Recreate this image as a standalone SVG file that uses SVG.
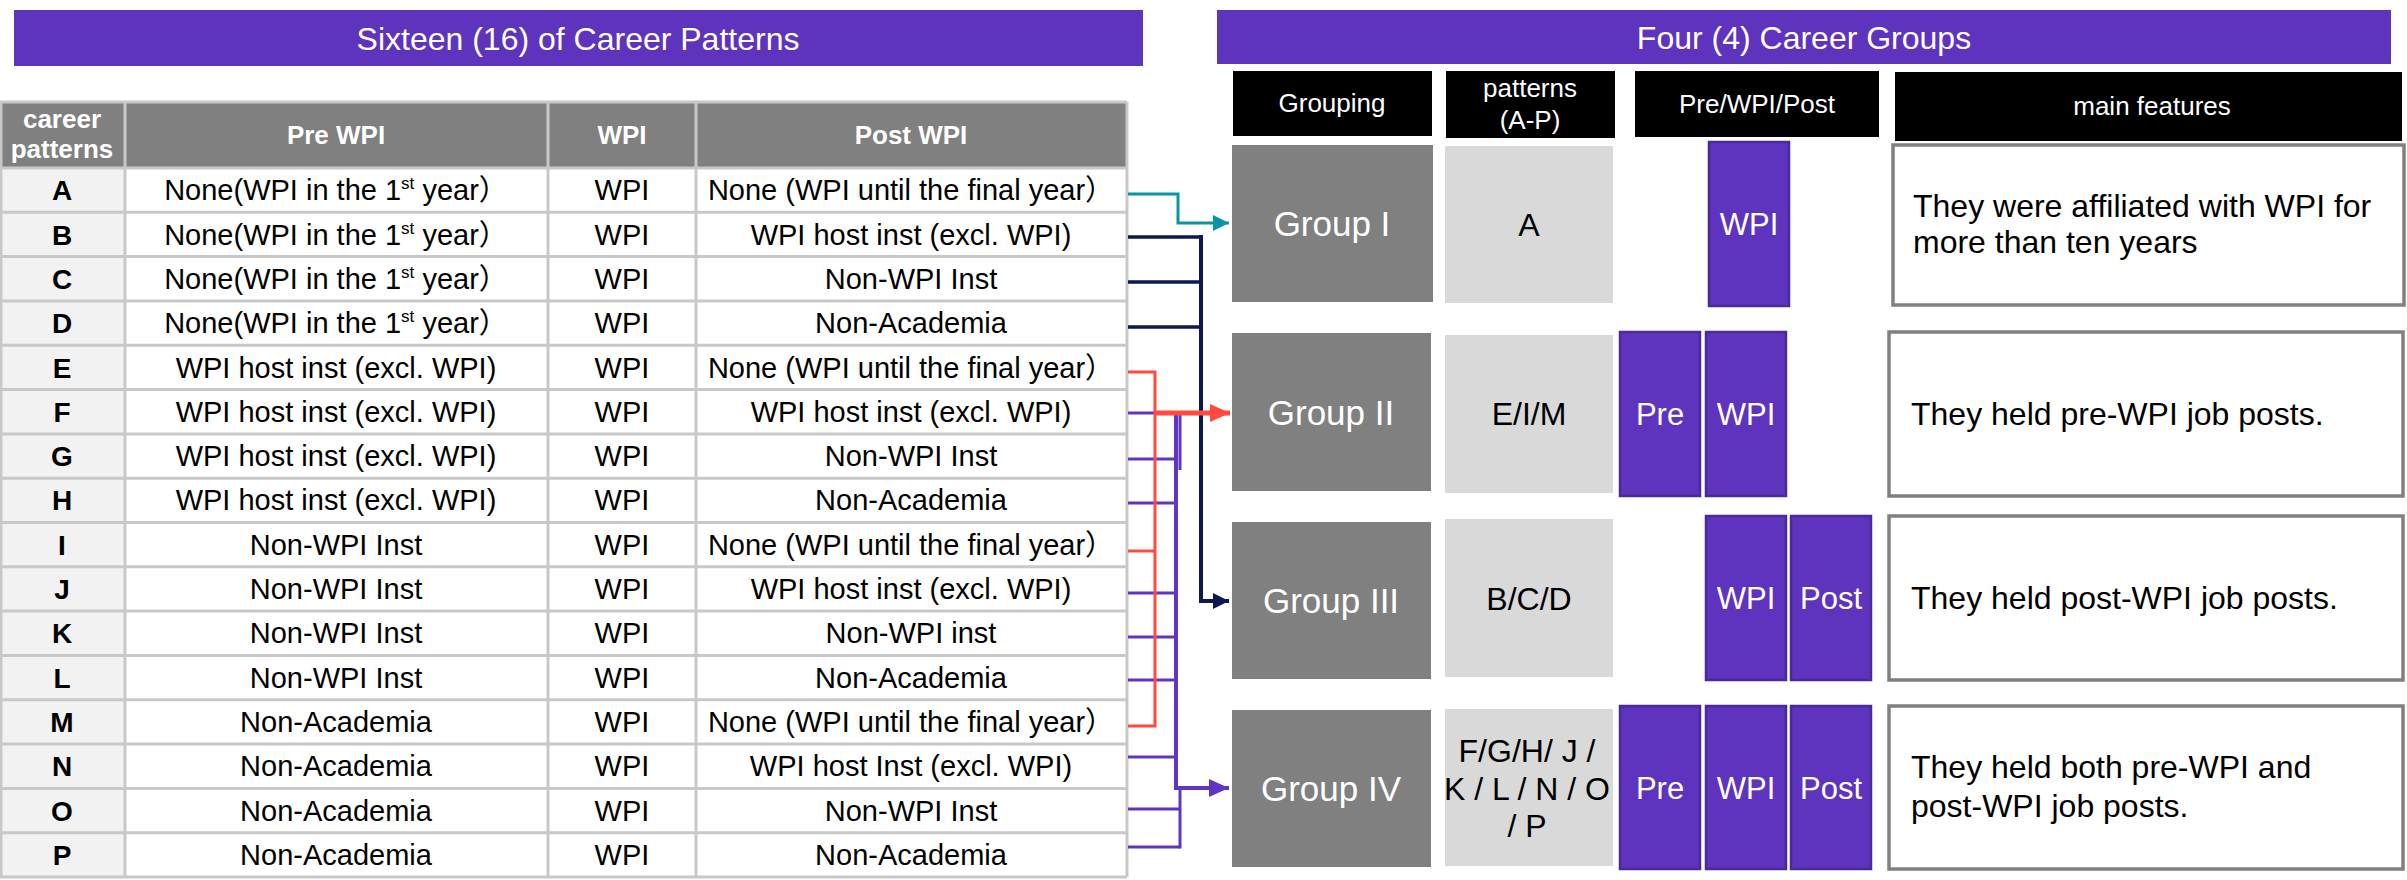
<svg xmlns="http://www.w3.org/2000/svg" width="2407" height="880" viewBox="0 0 2407 880">
<defs>
<style>
text{font-family:'Liberation Sans',Arial,'Noto Sans CJK JP',sans-serif}
.title{font-size:32px;fill:#fff;text-anchor:middle}
.th{font-weight:bold;font-size:26px;fill:#fff;text-anchor:middle}
.td{font-size:29px;fill:#000;text-anchor:middle}
.tl{font-weight:bold;font-size:28px;fill:#000;text-anchor:middle}
.hdr{font-size:26px;fill:#fff;text-anchor:middle}
.grp{font-size:35px;fill:#fff;text-anchor:middle}
.pat{font-size:32px;fill:#000;text-anchor:middle}
.bar{font-size:31px;fill:#fff;text-anchor:middle}
.feat{font-size:32px;fill:#000}
.sup{font-size:17px}
.grid{stroke:#c8c8c8;stroke-width:3;fill:none}
.gbox{fill:#808080}
.pbox{fill:#d9d9d9}
.vbox{fill:#5e33be;stroke:#4a2a9a;stroke-width:2.5}
.fbox{fill:#fff;stroke:#808080;stroke-width:3.5}
.conn{fill:none;stroke-linejoin:miter}
</style>
<marker id="arTeal" markerUnits="userSpaceOnUse" markerWidth="18" markerHeight="18" refX="16" refY="9" orient="auto"><path d="M0,1 L16,9 L0,17 Z" fill="#0a95a6"/></marker>
<marker id="arNavy" markerUnits="userSpaceOnUse" markerWidth="18" markerHeight="18" refX="16" refY="9" orient="auto"><path d="M0,1 L16,9 L0,17 Z" fill="#0c1850"/></marker>
<marker id="arRed" markerUnits="userSpaceOnUse" markerWidth="22" markerHeight="20" refX="20" refY="10" orient="auto"><path d="M0,1 L20,10 L0,19 Z" fill="#ff4a3d"/></marker>
<marker id="arPurple" markerUnits="userSpaceOnUse" markerWidth="22" markerHeight="20" refX="20" refY="10" orient="auto"><path d="M0,1 L20,10 L0,19 Z" fill="#6035c4"/></marker>
</defs>
<rect width="2407" height="880" fill="#fff"/>

<g id="title-left">
<rect x="14" y="10" width="1129" height="56" fill="#5e33be"/>
<text class="title" x="578" y="50">Sixteen (16) of Career Patterns</text>
</g>
<g id="title-right">
<rect x="1217" y="10" width="1174" height="54" fill="#5e33be"/>
<text class="title" x="1804" y="49">Four (4) Career Groups</text>
</g>

<g id="table">
<rect x="0" y="102" width="1127" height="66" fill="#808080"/>
<rect x="0" y="168" width="125" height="709" fill="#f2f2f2"/>
<rect x="125" y="168" width="1002" height="709" fill="#fff"/>
<path class="grid" d="M0,102H1127M0,168H1127M0,212.3H1127M0,256.6H1127M0,300.9H1127M0,345.3H1127M0,389.6H1127M0,433.9H1127M0,478.2H1127M0,522.5H1127M0,566.8H1127M0,611.1H1127M0,655.4H1127M0,699.8H1127M0,744.1H1127M0,788.4H1127M0,832.7H1127M0,877H1127M1,102V877M125,102V877M548,102V877M696,102V877M1127,102V877"/>
<text class="th" x="62" y="128">career</text>
<text class="th" x="62" y="158">patterns</text>
<text class="th" x="336" y="144">Pre WPI</text>
<text class="th" x="622" y="144">WPI</text>
<text class="th" x="911" y="144">Post WPI</text>

<g id="row-A"><text class="tl" x="62" y="200">A</text><text class="td" x="336" y="200">None(WPI in the 1<tspan class="sup" dy="-11">st</tspan><tspan dy="11"> year）</tspan></text><text class="td" x="622" y="200">WPI</text><text class="td" x="911" y="200">None (WPI until the final year）</text></g>
<g id="row-B"><text class="tl" x="62" y="244.5">B</text><text class="td" x="336" y="244.5">None(WPI in the 1<tspan class="sup" dy="-11">st</tspan><tspan dy="11"> year）</tspan></text><text class="td" x="622" y="244.5">WPI</text><text class="td" x="911" y="244.5">WPI host inst (excl. WPI)</text></g>
<g id="row-C"><text class="tl" x="62" y="289">C</text><text class="td" x="336" y="289">None(WPI in the 1<tspan class="sup" dy="-11">st</tspan><tspan dy="11"> year）</tspan></text><text class="td" x="622" y="289">WPI</text><text class="td" x="911" y="289">Non-WPI Inst</text></g>
<g id="row-D"><text class="tl" x="62" y="333">D</text><text class="td" x="336" y="333">None(WPI in the 1<tspan class="sup" dy="-11">st</tspan><tspan dy="11"> year）</tspan></text><text class="td" x="622" y="333">WPI</text><text class="td" x="911" y="333">Non-Academia</text></g>
<g id="row-E"><text class="tl" x="62" y="377.5">E</text><text class="td" x="336" y="377.5">WPI host inst (excl. WPI)</text><text class="td" x="622" y="377.5">WPI</text><text class="td" x="911" y="377.5">None (WPI until the final year）</text></g>
<g id="row-F"><text class="tl" x="62" y="421.7">F</text><text class="td" x="336" y="421.7">WPI host inst (excl. WPI)</text><text class="td" x="622" y="421.7">WPI</text><text class="td" x="911" y="421.7">WPI host inst (excl. WPI)</text></g>
<g id="row-G"><text class="tl" x="62" y="466">G</text><text class="td" x="336" y="466">WPI host inst (excl. WPI)</text><text class="td" x="622" y="466">WPI</text><text class="td" x="911" y="466">Non-WPI Inst</text></g>
<g id="row-H"><text class="tl" x="62" y="510.3">H</text><text class="td" x="336" y="510.3">WPI host inst (excl. WPI)</text><text class="td" x="622" y="510.3">WPI</text><text class="td" x="911" y="510.3">Non-Academia</text></g>
<g id="row-I"><text class="tl" x="62" y="554.7">I</text><text class="td" x="336" y="554.7">Non-WPI Inst</text><text class="td" x="622" y="554.7">WPI</text><text class="td" x="911" y="554.7">None (WPI until the final year）</text></g>
<g id="row-J"><text class="tl" x="62" y="599">J</text><text class="td" x="336" y="599">Non-WPI Inst</text><text class="td" x="622" y="599">WPI</text><text class="td" x="911" y="599">WPI host inst (excl. WPI)</text></g>
<g id="row-K"><text class="tl" x="62" y="643.3">K</text><text class="td" x="336" y="643.3">Non-WPI Inst</text><text class="td" x="622" y="643.3">WPI</text><text class="td" x="911" y="643.3">Non-WPI inst</text></g>
<g id="row-L"><text class="tl" x="62" y="687.6">L</text><text class="td" x="336" y="687.6">Non-WPI Inst</text><text class="td" x="622" y="687.6">WPI</text><text class="td" x="911" y="687.6">Non-Academia</text></g>
<g id="row-M"><text class="tl" x="62" y="732">M</text><text class="td" x="336" y="732">Non-Academia</text><text class="td" x="622" y="732">WPI</text><text class="td" x="911" y="732">None (WPI until the final year）</text></g>
<g id="row-N"><text class="tl" x="62" y="776.2">N</text><text class="td" x="336" y="776.2">Non-Academia</text><text class="td" x="622" y="776.2">WPI</text><text class="td" x="911" y="776.2">WPI host Inst (excl. WPI)</text></g>
<g id="row-O"><text class="tl" x="62" y="820.5">O</text><text class="td" x="336" y="820.5">Non-Academia</text><text class="td" x="622" y="820.5">WPI</text><text class="td" x="911" y="820.5">Non-WPI Inst</text></g>
<g id="row-P"><text class="tl" x="62" y="865">P</text><text class="td" x="336" y="865">Non-Academia</text><text class="td" x="622" y="865">WPI</text><text class="td" x="911" y="865">Non-Academia</text></g>
</g>

<g id="headers">
<rect x="1233" y="71" width="199" height="65" fill="#000"/>
<text class="hdr" x="1332" y="112">Grouping</text>
<rect x="1446" y="71" width="169" height="67" fill="#000"/>
<text class="hdr" x="1530" y="97">patterns</text>
<text class="hdr" x="1530" y="129">(A-P)</text>
<rect x="1635" y="71" width="244" height="66" fill="#000"/>
<text class="hdr" x="1757" y="113">Pre/WPI/Post</text>
<rect x="1895" y="72" width="507" height="69" fill="#000"/>
<text class="hdr" x="2152" y="115">main features</text>
</g>

<g id="group-1">
<rect class="gbox" x="1232" y="145" width="201" height="157"/>
<text class="grp" x="1332" y="236">Group I</text>
<rect class="pbox" x="1445" y="146" width="168" height="157"/>
<text class="pat" x="1529" y="236">A</text>
<rect class="vbox" x="1709" y="142" width="80" height="164"/>
<text class="bar" x="1749" y="235">WPI</text>
<rect class="fbox" x="1893" y="145" width="511" height="160"/>
<text class="feat" x="1913" y="217">They were affiliated with WPI for</text>
<text class="feat" x="1913" y="253">more than ten years</text>
</g>

<g id="group-2">
<rect class="gbox" x="1232" y="333" width="199" height="158"/>
<text class="grp" x="1331" y="425">Group II</text>
<rect class="pbox" x="1445" y="335" width="168" height="158"/>
<text class="pat" x="1529" y="425">E/I/M</text>
<rect class="vbox" x="1620" y="332" width="80" height="164"/>
<text class="bar" x="1660" y="425">Pre</text>
<rect class="vbox" x="1706" y="332" width="80" height="164"/>
<text class="bar" x="1746" y="425">WPI</text>
<rect class="fbox" x="1889" y="332" width="514" height="164"/>
<text class="feat" x="1911" y="425">They held pre-WPI job posts.</text>
</g>

<g id="group-3">
<rect class="gbox" x="1232" y="522" width="199" height="157"/>
<text class="grp" x="1331" y="613">Group III</text>
<rect class="pbox" x="1445" y="519" width="168" height="158"/>
<text class="pat" x="1529" y="610">B/C/D</text>
<rect class="vbox" x="1706" y="516" width="80" height="164"/>
<text class="bar" x="1746" y="609">WPI</text>
<rect class="vbox" x="1791" y="516" width="80" height="164"/>
<text class="bar" x="1831" y="609">Post</text>
<rect class="fbox" x="1889" y="516" width="514" height="164"/>
<text class="feat" x="1911" y="609">They held post-WPI job posts.</text>
</g>

<g id="group-4">
<rect class="gbox" x="1232" y="710" width="199" height="157"/>
<text class="grp" x="1331" y="801">Group IV</text>
<rect class="pbox" x="1445" y="709" width="168" height="157"/>
<text class="pat" x="1527" y="762">F/G/H/ J /</text>
<text class="pat" x="1527" y="800">K / L / N / O</text>
<text class="pat" x="1527" y="837">/ P</text>
<rect class="vbox" x="1620" y="706" width="80" height="163"/>
<text class="bar" x="1660" y="799">Pre</text>
<rect class="vbox" x="1706" y="706" width="80" height="163"/>
<text class="bar" x="1746" y="799">WPI</text>
<rect class="vbox" x="1791" y="706" width="80" height="163"/>
<text class="bar" x="1831" y="799">Post</text>
<rect class="fbox" x="1889" y="706" width="514" height="163"/>
<text class="feat" x="1911" y="778">They held both pre-WPI and</text>
<text class="feat" x="1911" y="817">post-WPI job posts.</text>
</g>

<g id="connectors">
<path class="conn" stroke="#0a95a6" stroke-width="3" d="M1128,194H1178V223H1229" marker-end="url(#arTeal)"/>
<path class="conn" stroke="#0c1850" stroke-width="3.5" d="M1128,237H1201M1128,282H1201M1128,327H1201"/>
<path class="conn" stroke="#0c1850" stroke-width="4" d="M1201,235V601H1229" marker-end="url(#arNavy)"/>
<path class="conn" stroke="#6035c4" stroke-width="3" d="M1128,413H1180M1128,459H1177M1128,503H1177M1128,593H1177M1128,637H1177M1128,680H1177M1128,757H1177M1128,809H1180M1128,847H1180"/>
<path class="conn" stroke="#6035c4" stroke-width="3" d="M1180,412V470M1180,788V848.5"/>
<path class="conn" stroke="#6035c4" stroke-width="4" d="M1176,411V790"/>
<path class="conn" stroke="#6035c4" stroke-width="4" d="M1176,788H1229" marker-end="url(#arPurple)"/>
<path class="conn" stroke="#ff4a3d" stroke-width="3" d="M1128,372H1155V727.5M1128,551H1155M1128,726H1155"/>
<path class="conn" stroke="#ff4a3d" stroke-width="5" d="M1155,413H1230" marker-end="url(#arRed)"/>
</g>
</svg>
